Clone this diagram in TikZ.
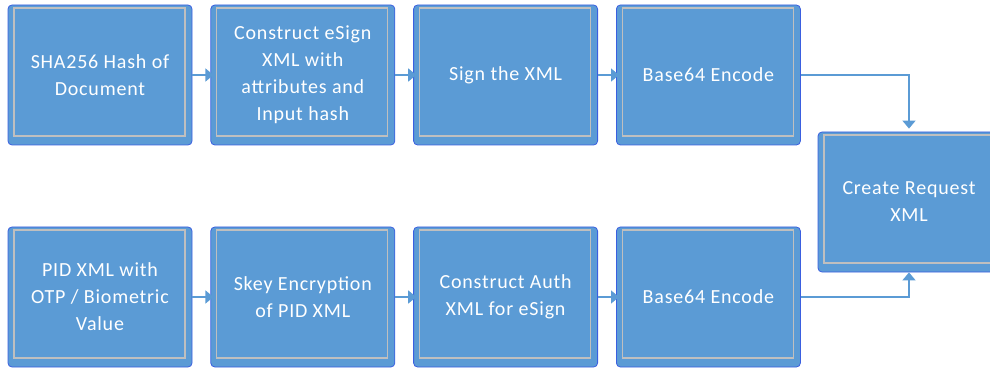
\documentclass[tikz,border=0pt]{standalone}
\usepackage{fontspec}
\setmainfont{Carlito}
\newfontfamily\boxfont[LetterSpace=4]{Carlito}
\usetikzlibrary{positioning}
\usetikzlibrary{arrows.meta}
\usetikzlibrary{calc}

\definecolor{boxblue}{HTML}{5B9BD5}
\definecolor{boxgray}{HTML}{BFBFBF}
\definecolor{boxedge}{HTML}{3A5FE0}

\begin{document}
\begin{tikzpicture}[
			x = 1pt, y = 1pt,
			node distance = 18pt,
			stepbox/.style = {
				rectangle, rounded corners = 4pt,
				fill = boxblue, draw = boxedge, line width = 0.8pt,
				minimum width = 184pt, minimum height = 140pt,
				text = white, align = center,
				font = \boxfont\fontsize{20}{27}\selectfont,
				path picture = {
					\draw[boxgray, line width = 1.2pt, sharp corners]
						([shift = {(6pt, -3pt)}]path picture bounding box.north west)
						rectangle
						([shift = {(-7pt, 9pt)}]path picture bounding box.south east);
				},
			},
			flow/.style = {
				line width = 1.6pt, draw = boxblue,
				-{Triangle[length = 8pt, width = 13pt]},
			},
		]

		\useasboundingbox (0, 0) rectangle (990, 367);

		% top row
		\node[stepbox] (hash) at (100, 292) {SHA256 Hash of\\Document};
		\node[stepbox, right = of hash] (esign) {Construct eSign\\XML with\\attributes and\\Input hash};
		\node[stepbox, right = of esign] (sign) {Sign the XML};
		\node[stepbox, right = of sign] (encTop) {Base64 Encode};

		% bottom row
		\node[stepbox] (pid) at (100, 70) {PID XML with\\OTP / Biometric\\Value};
		\node[stepbox, right = of pid] (skey) {Skey Encryption\\of PID XML};
		\node[stepbox, right = of skey] (auth) {Construct Auth\\XML for eSign};
		\node[stepbox, right = of auth] (encBot) {Base64 Encode};

		\node[stepbox, minimum width = 182pt] (request) at (909, 165) {Create Request\\XML};

		\draw[flow, shorten > = -3pt] (hash) to (esign);
		\draw[flow, shorten > = -3pt] (esign) to (sign);
		\draw[flow, shorten > = -3pt] (sign) to (encTop);
		\draw[flow, shorten > = -3pt] (pid) to (skey);
		\draw[flow, shorten > = -3pt] (skey) to (auth);
		\draw[flow, shorten > = -3pt] (auth) to (encBot);
		\draw[flow, shorten > = 3pt] (encTop.east) -| (request.north);
		\draw[flow] (encBot.east) -| (request.south);

	\end{tikzpicture}
\end{document}
